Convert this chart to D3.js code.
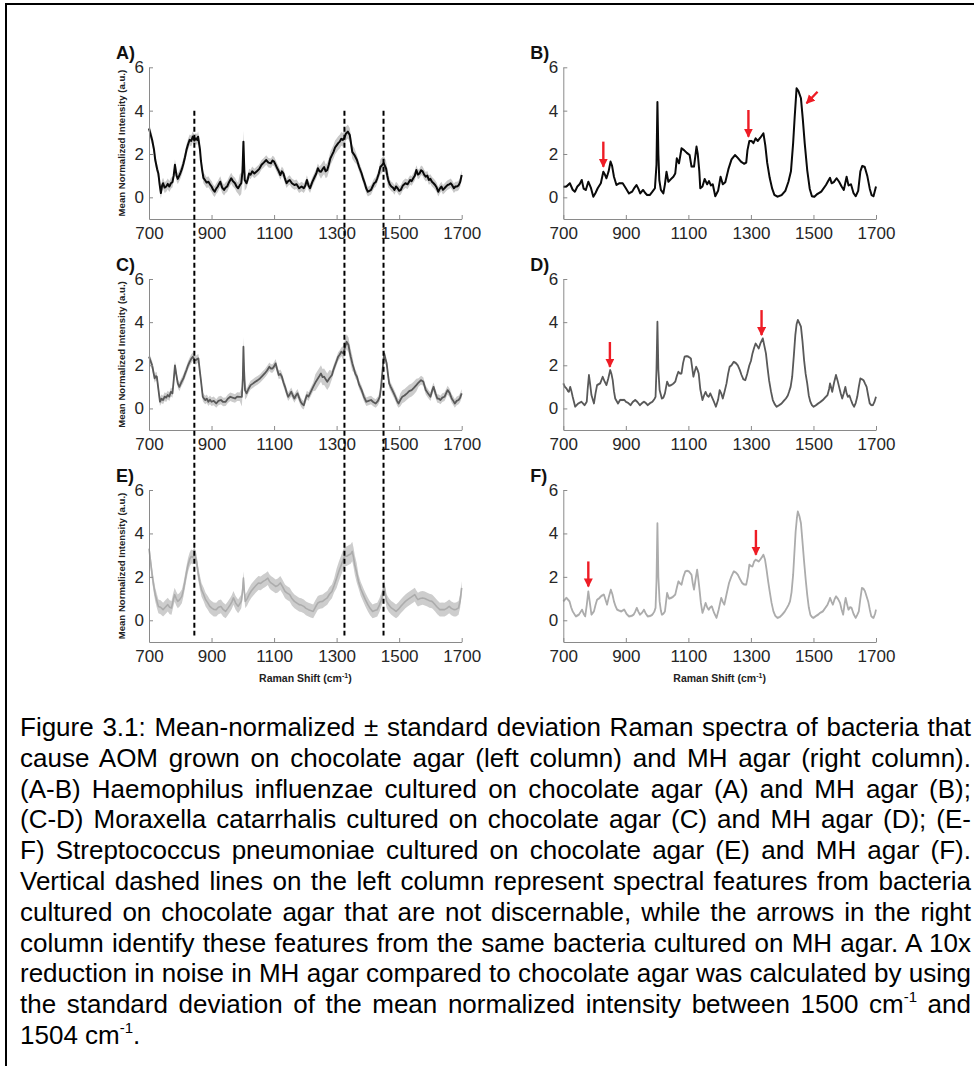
<!DOCTYPE html>
<html>
<head>
<meta charset="utf-8">
<script src="https://cdn.jsdelivr.net/npm/d3@7"></script>
<style>
body { margin: 0; background: #fff; }
#fig { position: absolute; left: 0; top: 0; }
#caption { position: absolute; left: 20px; top: 712px; width: 951px;
  font-family: Arial, "Liberation Sans", sans-serif; font-size: 26px; line-height: 30.8px; color: #000; }
#caption div { text-align: justify; text-align-last: justify; white-space: nowrap; }
#caption div.last { text-align-last: left; }
#caption sup { font-size: 15px; line-height: 0; vertical-align: 11px; }
</style>
</head>
<body>
<svg id="fig" width="974" height="1066"></svg>
<div id="caption"></div>
<script>
var w = 974;
var h = 1066;

// x axis ticks (Raman shift, cm-1) and y ticks
var shiftTicks = [700, 900, 1100, 1300, 1500, 1700];
var intensityTicks = [0, 2, 4, 6];

// A) H. influenzae, chocolate agar  [shift, mean]
var specA = [[700,3.18],[710,2.65],[716,2.2],[720,1.72],[726,1.3],[730,1.1],[734,0.6],[738,0.2],[742,0.55],[745,0.65],[750,0.45],[755,0.5],[760,0.62],[765,0.5],[770,0.65],[775,0.7],[779,1.0],[783,1.5],[788,1.0],[792,0.85],[800,1.1],[805,1.3],[810,1.55],[815,1.85],[820,2.2],[825,2.45],[830,2.65],[835,2.6],[840,2.8],[845,2.62],[850,2.72],[854,2.65],[857,2.8],[863,2.2],[866,1.7],[870,1.26],[874,0.9],[879,0.8],[884,0.68],[890,0.72],[895,0.6],[900,0.5],[905,0.35],[910,0.26],[915,0.4],[920,0.5],[924,0.62],[928,0.72],[934,0.45],[940,0.34],[945,0.45],[950,0.5],[956,0.7],[963,0.88],[968,0.75],[975,0.65],[980,0.5],[985,0.42],[990,0.55],[995,0.65],[999,1.2],[1002,2.57],[1004,1.6],[1006,0.8],[1012,0.65],[1016,0.85],[1020,1.1],[1025,1.05],[1030,1.2],[1037,1.1],[1045,1.2],[1052,1.3],[1060,1.5],[1067,1.6],[1075,1.72],[1082,1.6],[1090,1.57],[1095,1.7],[1100,1.65],[1105,1.5],[1110,1.34],[1115,1.2],[1120,1.03],[1125,1.2],[1130,1.1],[1135,0.85],[1140,0.65],[1145,0.75],[1150,0.8],[1157,0.65],[1165,0.57],[1172,0.6],[1180,0.42],[1188,0.5],[1195,0.42],[1200,0.55],[1205,0.8],[1210,0.55],[1215,0.42],[1222,0.7],[1230,0.95],[1235,1.1],[1240,1.34],[1245,1.2],[1250,1.18],[1255,1.3],[1260,1.4],[1265,1.2],[1270,1.26],[1275,1.5],[1280,1.8],[1285,1.95],[1290,2.1],[1295,2.3],[1300,2.4],[1305,2.5],[1310,2.57],[1315,2.7],[1320,2.65],[1325,2.75],[1330,2.95],[1336,3.03],[1342,2.88],[1346,2.5],[1350,2.1],[1357,1.95],[1365,1.72],[1372,1.4],[1380,1.1],[1385,0.85],[1390,0.65],[1395,0.4],[1400,0.26],[1405,0.3],[1410,0.34],[1415,0.5],[1420,0.65],[1425,0.7],[1430,0.88],[1435,1.1],[1440,1.4],[1446,1.5],[1451,1.57],[1458,1.34],[1462,1.0],[1465,0.8],[1470,0.6],[1475,0.5],[1480,0.45],[1485,0.34],[1490,0.5],[1495,0.42],[1500,0.3],[1505,0.34],[1512,0.55],[1520,0.65],[1527,0.6],[1535,0.8],[1540,0.75],[1545,0.88],[1550,1.0],[1555,1.26],[1560,1.05],[1565,1.1],[1570,1.25],[1575,1.2],[1580,1.05],[1585,0.95],[1590,1.0],[1595,0.8],[1600,0.85],[1605,0.72],[1610,0.65],[1615,0.57],[1620,0.45],[1625,0.26],[1630,0.4],[1635,0.5],[1640,0.35],[1645,0.42],[1650,0.5],[1655,0.57],[1660,0.6],[1665,0.65],[1670,0.55],[1675,0.42],[1680,0.5],[1685,0.5],[1690,0.55],[1695,0.7],[1700,1.03]];
var sdA = [[700,0.25],[990,0.5],[1010,0.22],[1250,0.32],[1360,0.22],[1440,0.35],[1470,0.22]];

// B) H. influenzae, MH agar
var specB = [[700,0.49],[710,0.5],[721,0.65],[730,0.35],[737,0.26],[745,0.5],[752,0.6],[759,0.8],[765,0.4],[772,0.34],[780,0.72],[788,0.45],[796,0.03],[803,0.2],[810,0.42],[820,0.65],[828,1.18],[833,1.05],[838,0.88],[845,1.2],[851,1.65],[856,1.45],[862,0.95],[870,0.57],[880,0.65],[890,0.65],[900,0.42],[910,0.18],[920,0.26],[928,0.45],[934,0.57],[940,0.4],[946,0.18],[955,0.34],[962,0.2],[968,0.11],[977,0.11],[985,0.26],[993,0.42],[998,1.5],[1001,4.4],[1004,2.0],[1007,0.8],[1012,0.34],[1020,0.18],[1025,0.6],[1030,1.18],[1036,0.72],[1045,0.85],[1052,0.95],[1058,1.1],[1063,1.8],[1070,1.57],[1078,2.26],[1086,2.18],[1095,2.05],[1104,1.95],[1110,1.42],[1118,1.42],[1126,2.34],[1130,2.0],[1135,1.2],[1138,0.42],[1145,0.5],[1152,0.85],[1160,0.6],[1166,0.75],[1172,0.55],[1178,0.6],[1186,0.05],[1195,0.3],[1203,0.95],[1210,0.6],[1218,0.7],[1228,1.3],[1238,1.75],[1249,1.95],[1258,1.82],[1268,1.65],[1278,1.55],[1285,1.6],[1289,2.18],[1295,2.6],[1302,2.6],[1308,2.5],[1315,2.72],[1322,2.6],[1330,2.75],[1340,2.95],[1346,2.4],[1352,1.6],[1360,0.9],[1368,0.4],[1375,0.11],[1385,0.03],[1398,0.1],[1410,0.3],[1420,0.72],[1428,1.2],[1435,2.5],[1440,3.72],[1446,5.03],[1452,4.9],[1460,4.57],[1466,3.6],[1472,2.5],[1480,1.26],[1488,0.4],[1495,0.05],[1503,0.03],[1512,0.15],[1525,0.26],[1540,0.57],[1547,0.75],[1553,0.9],[1558,0.65],[1565,0.7],[1574,0.88],[1582,0.72],[1590,0.5],[1597,0.34],[1606,0.95],[1612,0.55],[1620,0.6],[1628,0.2],[1635,0.05],[1643,0.3],[1650,1.2],[1656,1.45],[1664,1.4],[1672,1.0],[1680,0.4],[1686,0.1],[1692,0.05],[1700,0.5]];
var sdB = [[700,0.06]];

// C) M. catarrhalis, chocolate agar
var specC = [[700,2.4],[705,2.2],[710,2.0],[714,1.7],[718,1.39],[722,1.5],[725,1.47],[730,0.9],[735,0.31],[740,0.45],[745,0.39],[750,0.55],[755,0.5],[760,0.62],[765,0.55],[770,0.77],[775,0.7],[779,1.3],[783,2.0],[787,1.6],[792,1.16],[797,1.0],[803,1.2],[810,1.39],[815,1.6],[820,1.78],[825,2.0],[830,2.16],[835,2.3],[840,2.4],[845,2.25],[850,2.24],[855,2.3],[858,2.32],[862,1.8],[866,1.31],[872,0.54],[876,0.45],[880,0.39],[885,0.45],[890,0.31],[895,0.4],[900,0.31],[907,0.35],[915,0.23],[922,0.35],[930,0.39],[937,0.3],[945,0.31],[952,0.45],[960,0.54],[967,0.5],[975,0.46],[982,0.55],[990,0.54],[997,0.54],[1000,1.4],[1002,2.86],[1004,1.8],[1007,0.85],[1012,0.7],[1018,0.9],[1025,1.08],[1032,1.15],[1040,1.24],[1047,1.3],[1055,1.39],[1062,1.5],[1070,1.62],[1077,1.75],[1085,1.93],[1090,1.85],[1095,1.85],[1100,1.95],[1105,2.09],[1110,1.8],[1115,1.55],[1120,1.6],[1125,1.47],[1130,1.2],[1135,1.0],[1140,0.75],[1145,0.54],[1150,0.65],[1155,0.77],[1160,0.6],[1165,0.46],[1170,0.6],[1175,0.7],[1180,0.5],[1185,0.31],[1190,0.2],[1195,0.15],[1200,0.4],[1205,0.62],[1210,0.55],[1215,0.7],[1220,0.85],[1225,1.0],[1232,1.2],[1240,1.39],[1245,1.5],[1250,1.62],[1255,1.45],[1260,1.47],[1265,1.35],[1270,1.24],[1277,1.4],[1285,1.55],[1290,1.8],[1295,2.0],[1300,2.2],[1305,2.4],[1310,2.5],[1315,2.63],[1322,2.55],[1326,2.8],[1332,3.09],[1338,2.94],[1342,2.6],[1345,2.4],[1350,2.1],[1355,1.85],[1360,1.6],[1365,1.47],[1372,1.1],[1380,0.85],[1387,0.55],[1395,0.31],[1402,0.35],[1410,0.39],[1417,0.3],[1425,0.23],[1432,0.35],[1438,0.54],[1442,1.0],[1445,1.47],[1449,2.1],[1452,2.55],[1456,2.3],[1460,2.09],[1464,1.6],[1468,1.16],[1473,1.0],[1478,0.85],[1483,0.7],[1488,0.54],[1493,0.35],[1498,0.23],[1504,0.4],[1510,0.54],[1517,0.6],[1525,0.7],[1532,0.8],[1540,0.85],[1547,0.95],[1555,1.08],[1562,1.2],[1570,1.31],[1577,1.25],[1585,0.85],[1592,0.7],[1600,0.54],[1605,0.8],[1610,1.0],[1616,0.7],[1622,0.46],[1627,0.45],[1632,0.39],[1638,0.5],[1645,0.54],[1650,0.7],[1655,0.85],[1662,0.7],[1668,0.46],[1673,0.35],[1678,0.23],[1684,0.35],[1690,0.39],[1695,0.5],[1700,0.7]];
var sdC = [[700,0.2],[995,0.45],[1010,0.2],[1230,0.38],[1280,0.2],[1320,0.35],[1355,0.2],[1500,0.3],[1560,0.2]];

// D) M. catarrhalis, MH agar
var specD = [[700,1.16],[705,1.0],[710,0.93],[715,0.8],[718,0.77],[722,1.0],[726,0.8],[730,0.54],[738,0.08],[748,0.23],[758,0.31],[768,0.15],[775,0.31],[778,0.9],[782,1.55],[786,1.1],[790,0.62],[798,0.23],[803,0.7],[808,1.08],[818,1.16],[826,1.47],[832,1.25],[838,1.08],[844,1.4],[850,1.78],[854,1.6],[858,1.31],[862,0.8],[866,0.46],[875,0.23],[882,0.4],[888,0.39],[895,0.4],[900,0.31],[908,0.25],[915,0.15],[922,0.3],[930,0.39],[937,0.3],[945,0.15],[952,0.25],[958,0.31],[964,0.25],[970,0.15],[978,0.25],[985,0.31],[992,0.45],[995,0.54],[998,1.8],[1001,4.02],[1004,1.8],[1008,0.85],[1015,0.46],[1020,0.5],[1025,0.7],[1032,1.24],[1038,1.05],[1045,1.08],[1052,1.15],[1058,1.24],[1063,1.5],[1068,1.7],[1073,1.62],[1078,1.62],[1083,2.1],[1088,2.4],[1095,2.42],[1100,2.4],[1108,2.32],[1112,1.9],[1116,1.47],[1120,1.7],[1125,1.93],[1129,1.8],[1133,1.62],[1138,0.9],[1145,0.39],[1150,0.6],[1155,0.77],[1160,0.6],[1165,0.54],[1170,0.7],[1175,0.54],[1182,0.3],[1188,0.08],[1195,0.4],[1200,0.85],[1205,0.7],[1210,0.46],[1216,0.8],[1222,1.16],[1227,1.6],[1232,1.93],[1238,2.0],[1245,2.16],[1252,2.1],[1258,2.0],[1264,1.8],[1270,1.55],[1276,1.35],[1282,1.31],[1288,1.6],[1295,2.0],[1300,2.2],[1305,2.55],[1310,2.8],[1315,3.01],[1320,2.9],[1325,2.78],[1330,3.0],[1338,3.25],[1343,2.9],[1348,2.55],[1353,1.9],[1358,1.31],[1364,0.8],[1370,0.39],[1376,0.2],[1382,0.08],[1390,0.15],[1398,0.23],[1405,0.35],[1412,0.46],[1418,0.6],[1422,0.77],[1427,1.0],[1432,1.47],[1437,2.4],[1442,3.4],[1446,3.9],[1450,4.1],[1455,3.95],[1460,3.79],[1465,3.1],[1470,2.24],[1475,1.6],[1480,1.16],[1485,0.6],[1490,0.31],[1495,0.15],[1500,0.08],[1508,0.15],[1515,0.23],[1522,0.3],[1530,0.39],[1537,0.5],[1545,0.62],[1550,0.9],[1553,1.16],[1557,0.95],[1560,0.77],[1566,1.2],[1572,1.55],[1577,1.3],[1582,1.0],[1587,0.7],[1592,0.46],[1597,0.7],[1602,1.0],[1606,0.7],[1610,0.54],[1615,0.6],[1620,0.39],[1625,0.2],[1630,0.08],[1635,0.25],[1640,0.54],[1645,1.0],[1650,1.39],[1655,1.35],[1660,1.31],[1665,1.15],[1670,1.0],[1675,0.6],[1680,0.23],[1685,0.15],[1690,0.15],[1695,0.3],[1700,0.54]];
var sdD = [[700,0.06]];

// E) S. pneumoniae, chocolate agar
var specE = [[700,3.3],[705,2.7],[710,2.1],[715,1.6],[720,1.18],[725,0.9],[730,0.64],[737,0.6],[745,0.49],[752,0.6],[760,0.72],[766,0.6],[772,0.57],[777,0.9],[782,1.18],[787,1.0],[792,0.87],[798,0.95],[805,1.1],[810,1.4],[815,1.79],[820,2.2],[825,2.56],[830,2.8],[835,2.94],[840,2.9],[845,3.02],[849,2.9],[852,2.71],[857,2.2],[862,1.79],[868,1.4],[875,1.18],[881,0.95],[888,0.8],[894,0.65],[900,0.57],[907,0.5],[915,0.49],[922,0.6],[930,0.64],[937,0.5],[945,0.41],[952,0.55],[960,0.72],[965,0.85],[970,1.03],[977,0.8],[985,0.64],[990,0.75],[995,0.87],[999,1.3],[1002,1.94],[1005,1.3],[1008,0.87],[1014,1.0],[1020,1.18],[1027,1.35],[1035,1.49],[1042,1.6],[1050,1.72],[1057,1.7],[1065,1.79],[1072,1.85],[1080,1.94],[1085,1.8],[1090,1.72],[1097,1.65],[1105,1.56],[1112,1.6],[1120,1.72],[1127,1.55],[1135,1.33],[1142,1.25],[1150,1.18],[1157,1.0],[1165,0.87],[1172,0.8],[1180,0.72],[1187,0.7],[1195,0.64],[1202,0.55],[1210,0.49],[1217,0.45],[1225,0.41],[1232,0.6],[1240,0.8],[1247,0.85],[1255,0.87],[1262,0.95],[1270,1.03],[1277,1.2],[1285,1.33],[1292,1.6],[1300,1.94],[1307,2.25],[1315,2.56],[1320,2.75],[1325,2.94],[1332,2.95],[1340,3.02],[1345,3.05],[1350,3.17],[1354,2.9],[1358,2.56],[1364,2.2],[1370,1.79],[1377,1.45],[1385,1.18],[1392,0.95],[1400,0.72],[1407,0.55],[1415,0.41],[1422,0.45],[1430,0.49],[1437,0.7],[1445,1.03],[1449,1.3],[1452,1.56],[1456,1.2],[1460,0.87],[1467,0.7],[1475,0.57],[1482,0.5],[1490,0.41],[1497,0.5],[1505,0.64],[1512,0.75],[1520,0.87],[1527,0.95],[1535,1.03],[1542,1.1],[1550,1.18],[1555,1.05],[1560,0.95],[1567,1.0],[1575,1.03],[1582,1.0],[1590,0.95],[1597,0.9],[1605,0.87],[1610,0.8],[1615,0.72],[1622,0.6],[1630,0.49],[1637,0.5],[1645,0.49],[1652,0.55],[1660,0.64],[1667,0.55],[1675,0.49],[1682,0.5],[1690,0.57],[1695,0.9],[1700,1.49]];
var sdE = [[700,0.32],[1300,0.45],[1370,0.32]];

// F) S. pneumoniae, MH agar
var specF = [[700,0.87],[705,0.95],[710,1.03],[715,0.95],[720,0.87],[725,0.6],[730,0.41],[740,0.18],[750,0.26],[760,0.49],[765,0.3],[770,0.18],[775,0.7],[780,1.33],[785,0.8],[790,0.26],[798,0.41],[803,0.7],[808,0.95],[814,1.0],[820,1.1],[825,1.15],[830,1.18],[835,0.95],[840,0.72],[846,1.1],[852,1.41],[857,1.2],[862,0.87],[867,0.65],[872,0.49],[878,0.45],[885,0.41],[890,0.45],[895,0.49],[902,0.3],[910,0.18],[918,0.2],[925,0.26],[930,0.4],[935,0.57],[940,0.4],[945,0.26],[952,0.35],[958,0.49],[964,0.3],[970,0.18],[978,0.2],[985,0.26],[991,0.4],[995,0.57],[998,1.8],[1001,4.47],[1004,2.0],[1008,0.87],[1012,0.45],[1015,0.26],[1020,0.3],[1025,0.41],[1032,1.26],[1038,1.0],[1045,1.03],[1052,1.1],[1058,1.18],[1063,1.5],[1068,1.79],[1073,1.7],[1078,1.64],[1084,2.0],[1090,2.25],[1096,2.28],[1102,2.25],[1110,2.1],[1114,1.7],[1118,1.41],[1123,1.9],[1128,2.33],[1131,2.0],[1135,1.49],[1140,0.8],[1145,0.34],[1150,0.55],[1155,0.8],[1160,0.6],[1165,0.49],[1170,0.6],[1175,0.64],[1182,0.35],[1190,0.11],[1197,0.5],[1205,1.03],[1210,0.85],[1215,0.72],[1222,1.2],[1230,1.72],[1237,2.0],[1245,2.25],[1252,2.2],[1258,2.1],[1265,1.9],[1272,1.72],[1278,1.65],[1285,1.64],[1290,2.0],[1295,2.56],[1300,2.5],[1305,2.48],[1310,2.7],[1315,2.79],[1320,2.75],[1325,2.71],[1330,2.8],[1335,2.9],[1340,3.02],[1345,2.8],[1350,2.33],[1355,1.8],[1360,1.33],[1366,0.8],[1372,0.41],[1378,0.2],[1385,0.11],[1392,0.15],[1400,0.26],[1408,0.4],[1415,0.57],[1420,0.7],[1425,0.87],[1430,1.3],[1435,2.1],[1439,3.1],[1443,4.09],[1447,4.7],[1450,5.01],[1455,4.8],[1460,4.47],[1465,3.6],[1470,2.71],[1475,1.9],[1480,1.18],[1485,0.6],[1490,0.26],[1495,0.15],[1500,0.11],[1508,0.2],[1515,0.26],[1522,0.35],[1530,0.41],[1537,0.55],[1545,0.72],[1550,0.9],[1553,1.03],[1558,0.85],[1562,0.72],[1567,0.95],[1572,1.1],[1578,1.0],[1585,0.8],[1590,0.5],[1595,0.26],[1599,0.7],[1603,1.03],[1608,0.7],[1612,0.49],[1617,0.6],[1622,0.57],[1628,0.3],[1635,0.11],[1640,0.25],[1645,0.41],[1650,1.0],[1655,1.49],[1660,1.45],[1665,1.33],[1670,1.1],[1675,0.87],[1680,0.5],[1685,0.18],[1692,0.11],[1697,0.3],[1700,0.49]];
var sdF = [[700,0.06]];

// dashed guide positions (left column) and red arrows (right column): [x1, y1, x2, y2]
var dashShifts = [845, 1325, 1450];
var arrowsB = [[828, 2.57, 828, 1.41], [1292, 4.03, 1292, 2.8], [1513, 4.87, 1478, 4.34]];
var arrowsD = [[849, 3.08, 849, 1.93], [1334, 4.56, 1334, 3.4]];
var arrowsF = [[780, 2.71, 780, 1.56], [1316, 4.16, 1316, 3.02]];

var captionLines = [
  "Figure 3.1: Mean-normalized \u00b1 standard deviation Raman spectra of bacteria that",
  "cause AOM grown on chocolate agar (left column) and MH agar (right column).",
  "(A-B) Haemophilus influenzae cultured on chocolate agar (A) and MH agar (B);",
  "(C-D) Moraxella catarrhalis cultured on chocolate agar (C) and MH agar (D); (E-",
  "F) Streptococcus pneumoniae cultured on chocolate agar (E) and MH agar (F).",
  "Vertical dashed lines on the left column represent spectral features from bacteria",
  "cultured on chocolate agar that are not discernable, while the arrows in the right",
  "column identify these features from the same bacteria cultured on MH agar. A 10x",
  "reduction in noise in MH agar compared to chocolate agar was calculated by using",
  "the standard deviation of the mean normalized intensity between 1500 cm<sup>-1</sup> and",
  "1504 cm<sup>-1</sup>."
];

var svg = d3.select("#fig");
var font = "Arial, 'Liberation Sans', sans-serif";

// frame (only top and left edges show)
svg.append("line").attr("x1", 5).attr("y1", 4).attr("x2", w).attr("y2", 4)
   .attr("stroke", "#000").attr("stroke-width", 2);
svg.append("line").attr("x1", 6).attr("y1", 3).attr("x2", 6).attr("y2", h)
   .attr("stroke", "#000").attr("stroke-width", 2);

var colLeft = [149, 563.3];
var plotW = 312.7;
var rowTop = [67.3, 279, 490];
var rowBottom = [219, 430, 642];

var panels = [
  {label: "A)", spec: specA, sd: sdA, col: 0, row: 0, line: "#0a0a0a", band: "#c9c9c9", lw: 2},
  {label: "B)", spec: specB, sd: sdB, col: 1, row: 0, line: "#0a0a0a", band: "#cfcfcf", lw: 2, arrows: arrowsB},
  {label: "C)", spec: specC, sd: sdC, col: 0, row: 1, line: "#595959", band: "#cccccc", lw: 1.8},
  {label: "D)", spec: specD, sd: sdD, col: 1, row: 1, line: "#595959", band: "#d5d5d5", lw: 1.8, arrows: arrowsD},
  {label: "E)", spec: specE, sd: sdE, col: 0, row: 2, line: "#acacac", band: "#cdcdcd", lw: 1.6},
  {label: "F)", spec: specF, sd: sdF, col: 1, row: 2, line: "#acacac", band: "#dddddd", lw: 1.8, arrows: arrowsF}
];

function xScale(p) {
  return d3.scaleLinear().domain([700, 1700]).range([colLeft[p.col], colLeft[p.col] + plotW]);
}
function yScale(row) {
  return d3.scaleLinear().domain([-1, 6]).range([rowBottom[row], rowTop[row]]);
}
function sdAt(table, s) {
  var v = table[0][1];
  table.forEach(function(t) { if (s >= t[0]) v = t[1]; });
  return v;
}

var defs = svg.append("defs");
defs.append("marker").attr("id", "head")
    .attr("markerUnits", "userSpaceOnUse")
    .attr("markerWidth", 10).attr("markerHeight", 10)
    .attr("refX", 8).attr("refY", 4.5).attr("orient", "auto")
  .append("path").attr("d", "M0,0 L9,4.5 L0,9 Z").attr("fill", "#ee1c25");

panels.forEach(function(p) {
  var x = xScale(p);
  var y = yScale(p.row);
  var g = svg.append("g");

  var area = d3.area()
      .x(function(d) { return x(d[0]); })
      .y0(function(d) { return y(d[1] - sdAt(p.sd, d[0])); })
      .y1(function(d) { return y(d[1] + sdAt(p.sd, d[0])); });
  g.append("path").datum(p.spec).attr("d", area).attr("fill", p.band);

  var line = d3.line().x(function(d) { return x(d[0]); }).y(function(d) { return y(d[1]); });
  g.append("path").datum(p.spec).attr("d", line)
   .attr("fill", "none").attr("stroke", p.line).attr("stroke-width", p.lw)
   .attr("stroke-linejoin", "round");

  // axes, MATLAB style: ticks point inward
  var xa = g.append("g").attr("transform", "translate(0," + y(-1) + ")")
      .call(d3.axisBottom(x).tickValues(shiftTicks).tickFormat(d3.format("d"))
            .tickSizeInner(-4).tickSizeOuter(0).tickPadding(8));
  var ya = g.append("g").attr("transform", "translate(" + x(700) + ",0)")
      .call(d3.axisLeft(y).tickValues(intensityTicks).tickFormat(d3.format("d"))
            .tickSizeInner(-4).tickSizeOuter(0).tickPadding(5));
  [xa, ya].forEach(function(a) {
    a.select(".domain").attr("stroke", "#8a8a8a");
    a.selectAll(".tick line").attr("stroke", "#8a8a8a");
    a.selectAll(".tick text").attr("fill", "#262626").style("font-size", "17px").style("font-family", font);
  });

  g.append("text").attr("x", colLeft[p.col] - 33).attr("y", rowTop[p.row] - 8)
   .attr("font-family", font).attr("font-weight", "bold").attr("font-size", 18)
   .attr("fill", "#111").text(p.label);

  if (p.col === 0) {
    g.append("text")
     .attr("transform", "translate(" + (x(700) - 24) + "," + ((rowTop[p.row] + rowBottom[p.row]) / 2) + ") rotate(-90)")
     .attr("text-anchor", "middle")
     .attr("font-family", font).attr("font-weight", "bold").attr("font-size", 9.6)
     .attr("fill", "#222").text("Mean Normalized Intensity (a.u.)");
  }
  if (p.row === 2) {
    var t = g.append("text")
     .attr("x", colLeft[p.col] + plotW / 2).attr("y", rowBottom[p.row] + 40)
     .attr("text-anchor", "middle")
     .attr("font-family", font).attr("font-weight", "bold").attr("font-size", 10.5)
     .attr("fill", "#222");
    t.append("tspan").text("Raman Shift (cm");
    t.append("tspan").attr("font-size", 7).attr("dy", -4).text("-1");
    t.append("tspan").attr("dy", 4).text(")");
  }

  if (p.arrows) {
    g.selectAll(".arrow").data(p.arrows).enter().append("line")
     .attr("x1", function(d) { return x(d[0]); }).attr("y1", function(d) { return y(d[1]); })
     .attr("x2", function(d) { return x(d[2]); }).attr("y2", function(d) { return y(d[3]); })
     .attr("stroke", "#ee1c25").attr("stroke-width", 2.4)
     .attr("marker-end", "url(#head)");
  }
});

// dashed guides run from panel A (y = 4) down to panel E (y = -0.7)
var xl = xScale({col: 0});
svg.selectAll(".guide").data(dashShifts).enter().append("line")
   .attr("x1", function(d) { return xl(d); }).attr("x2", function(d) { return xl(d); })
   .attr("y1", yScale(0)(4)).attr("y2", yScale(2)(-0.7))
   .attr("stroke", "#000").attr("stroke-width", 2).attr("stroke-dasharray", "5,3");

d3.select("#caption").selectAll("div").data(captionLines).enter().append("div")
  .attr("class", function(d, i) { return i === captionLines.length - 1 ? "last" : null; })
  .html(function(d) { return d; });
</script>
</body>
</html>
